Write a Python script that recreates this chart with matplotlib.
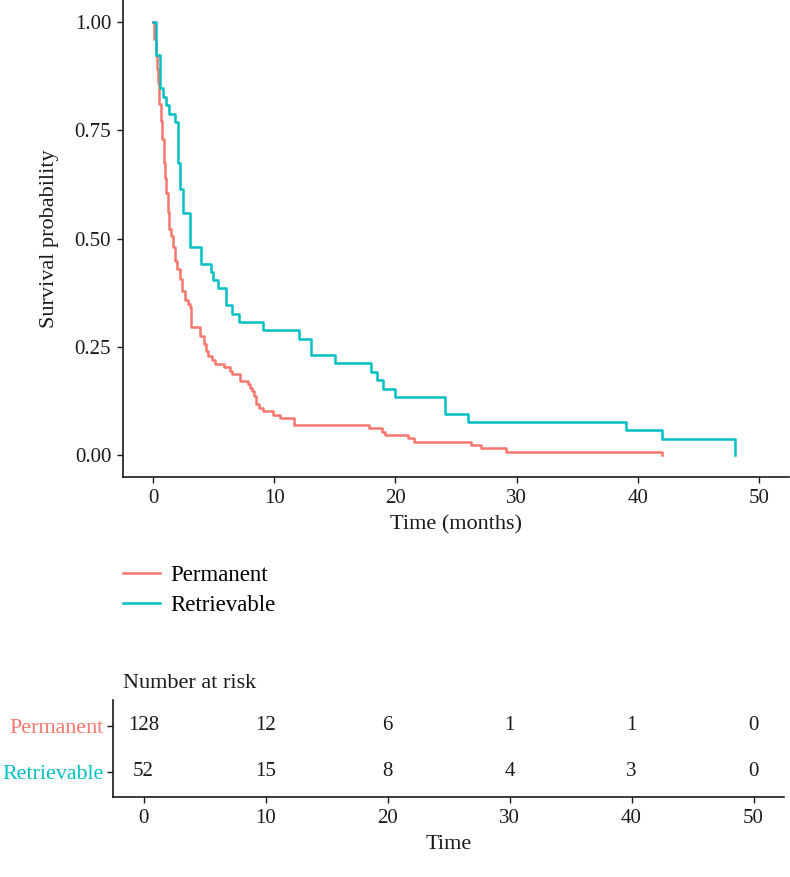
import matplotlib
matplotlib.use("Agg")
import matplotlib.pyplot as plt

# colours (ggplot default hue palette)
red = "#F8766D"
teal = "#00BFC4"

# Kaplan-Meier steps: time (months) and survival after the step
perm_time = [0, 0.1, 0.2, 0.3, 0.39, 0.5, 0.6, 0.7, 0.85, 0.95, 1.07, 1.2, 1.34,
             1.49, 1.6, 1.82, 2.0, 2.23, 2.4, 2.64, 2.85, 3.05, 3.14, 3.9, 4.15,
             4.35, 4.56, 4.84, 5.1, 5.85, 6.35, 6.5, 7.2, 7.86, 8.0, 8.14, 8.33,
             8.5, 8.69, 9.1, 9.9, 10.5, 11.6, 17.85, 18.9, 19.1, 21.07, 21.5,
             26.2, 27.1, 29.1, 42.0]
perm_surv = [1.0, 0.96, 0.92, 0.89, 0.859, 0.81, 0.77, 0.73, 0.675, 0.64, 0.606,
             0.56, 0.521, 0.505, 0.48, 0.448, 0.43, 0.406, 0.38, 0.359, 0.35,
             0.343, 0.295, 0.276, 0.256, 0.24, 0.230, 0.219, 0.210, 0.203, 0.195,
             0.188, 0.172, 0.164, 0.156, 0.148, 0.137, 0.118, 0.109, 0.102, 0.094,
             0.086, 0.070, 0.0625, 0.0547, 0.047, 0.039, 0.031, 0.023, 0.016,
             0.0078, 0.0]

retr_time = [0, 0.25, 0.52, 0.77, 1.07, 1.27, 1.76, 2.06, 2.23, 2.45, 3.0, 3.98,
             4.76, 4.92, 5.31, 6.02, 6.52, 7.04, 9.05, 12.05, 13.04, 15.0, 18.0,
             18.5, 19.0, 20.0, 24.07, 26.0, 39.0, 42.0, 48.0]
retr_surv = [1.0, 0.923, 0.846, 0.827, 0.808, 0.788, 0.769, 0.673, 0.615, 0.558,
             0.481, 0.442, 0.423, 0.404, 0.385, 0.346, 0.327, 0.308, 0.288, 0.269,
             0.231, 0.212, 0.192, 0.173, 0.154, 0.135, 0.096, 0.077, 0.058,
             0.038, 0.0]

# number at risk table
risk_times = [0, 10, 20, 30, 40, 50]
perm_risk = [128, 12, 6, 1, 1, 0]
retr_risk = [52, 15, 8, 4, 3, 0]

groups = ["Permanent", "Retrievable"]
x_ticks = [0, 10, 20, 30, 40, 50]
y_ticks = [0.0, 0.25, 0.5, 0.75, 1.0]
y_labels = ["0.00", "0.25", "0.50", "0.75", "1.00"]

plt.rcParams["font.family"] = ["Liberation Serif", "DejaVu Serif"]
txt = "#1a1a1a"
fs_tick = 15
fs_title = 16

W, H = 790, 877
fig = plt.figure(figsize=(W / 100, H / 100), dpi=100)


def box(l, t, r, b):
    # pixel box -> figure fraction
    return [l / W, 1 - b / H, (r - l) / W, (b - t) / H]


def style(ax):
    for s in ["top", "right"]:
        ax.spines[s].set_visible(False)
    for s in ["left", "bottom"]:
        ax.spines[s].set_linewidth(1.2)
        ax.spines[s].set_color(txt)
    ax.tick_params(length=4.5, width=1.0, color=txt, labelsize=fs_tick,
                   labelcolor=txt, pad=4)


# survival curves
ax = fig.add_axes(box(123, 0, 789, 477))
l1, = ax.step(perm_time, perm_surv, where="post", color=red, lw=1.8)
l2, = ax.step(retr_time, retr_surv, where="post", color=teal, lw=1.8)
ax.set_xlim(-2.5, 52.5)
ax.set_ylim(-0.05, 1.05)
ax.set_xticks(x_ticks)
ax.set_yticks(y_ticks)
ax.set_yticklabels(y_labels)
style(ax)
ax.set_xlabel("Time (months)", fontsize=fs_title, color=txt, labelpad=5)
ax.set_ylabel("Survival probability", fontsize=fs_title, color=txt, labelpad=11)

fig.legend([l1, l2], groups, loc="upper left",
           bbox_to_anchor=(123 / W, 1 - 565 / H), frameon=False,
           fontsize=16.5, handlelength=1.6, handletextpad=0.45,
           labelspacing=0.4, borderpad=0, borderaxespad=0)

# risk table
tb = fig.add_axes(box(113, 700, 784, 797))
for i, vals in enumerate([perm_risk, retr_risk]):
    ypos = 2 - i
    for t, v in zip(risk_times, vals):
        tb.text(t, ypos, str(v), ha="center", va="center", fontsize=fs_tick,
                color=txt)
tb.set_xlim(-2.5, 52.5)
tb.set_ylim(0.455, 2.565)
tb.set_xticks(x_ticks)
tb.set_yticks([2, 1])
tb.set_yticklabels(groups)
style(tb)
tb.tick_params(axis="y", pad=2.5)
for lab, c in zip(tb.get_yticklabels(), [red, teal]):
    lab.set_color(c)
    lab.set_fontsize(15.8)
tb.set_xlabel("Time", fontsize=fs_title, color=txt, labelpad=5)
fig.text(123 / W, 1 - 683 / H, "Number at risk", fontsize=fs_title,
         color=txt, ha="left", va="center")

fig.savefig("out.png", dpi=100)
